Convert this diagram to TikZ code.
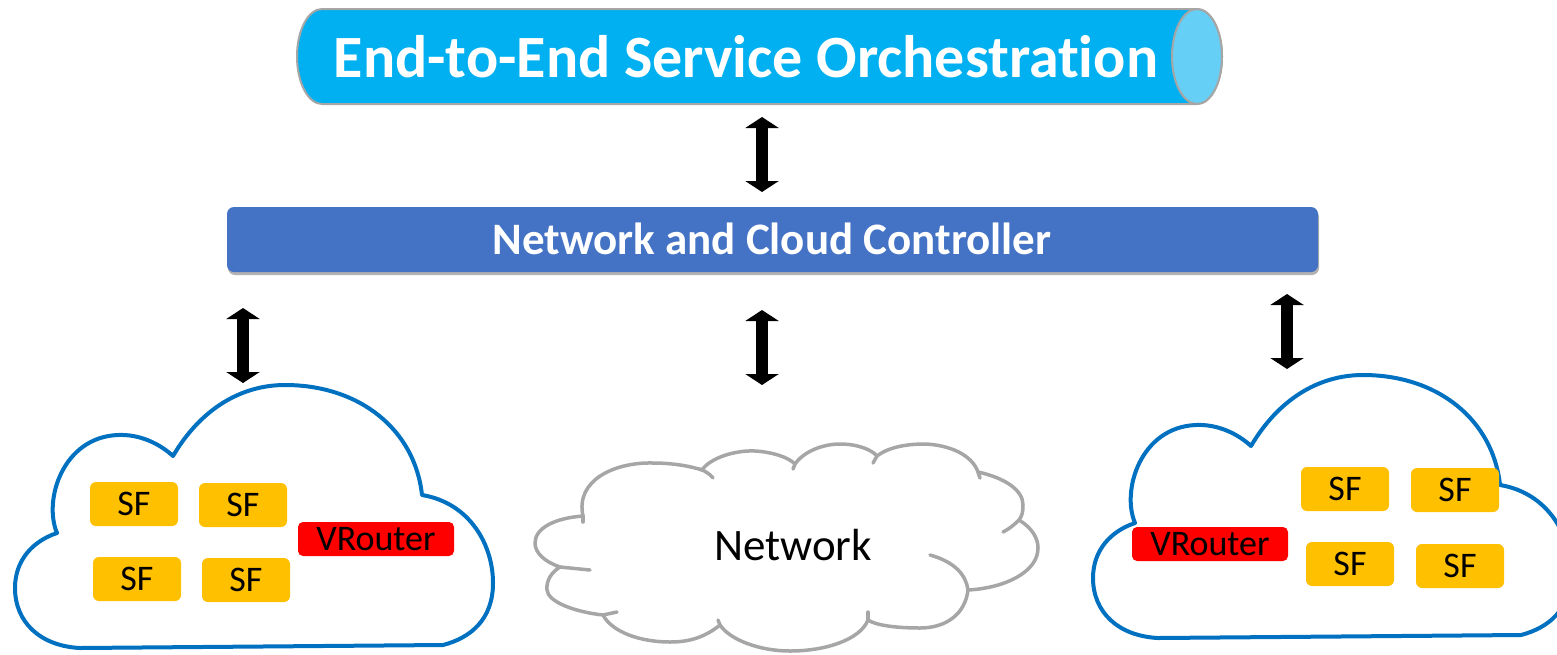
\documentclass[tikz,border=0pt]{standalone}
\usepackage{fontspec}
\setmainfont[Ligatures=NoCommon]{Carlito}
\usetikzlibrary{arrows.meta,shadows}
\definecolor{cylblue}{HTML}{00B0F0}
\definecolor{cylcap}{HTML}{66CFF5}
\definecolor{cylrim}{HTML}{A6A6A6}
\definecolor{ctrlblue}{HTML}{4472C4}
\definecolor{cloudblue}{HTML}{0070C0}
\definecolor{sfyellow}{HTML}{FFC000}
\definecolor{vrred}{HTML}{FF0000}
\definecolor{netgray}{HTML}{A6A6A6}
\begin{document}
\begin{tikzpicture}[x=1pt,y=-1pt,
  sfbox/.style={fill=sfyellow, rounded corners=6pt, minimum width=88pt, minimum height=44pt, inner sep=0pt, font=\fontsize{36}{40}\selectfont},
  vrbox/.style={fill=vrred, rounded corners=5pt, minimum width=156pt, minimum height=34pt, inner sep=0pt, font=\fontsize{36}{40}\selectfont},
  dblarrow/.style={line width=12pt, {Triangle[length=11pt,width=33pt]}-{Triangle[length=11pt,width=33pt]}},
  cloudline/.style={draw=cloudblue, line width=4pt, fill=white, line join=round},
  netline/.style={draw=netgray, line width=3.5pt, line cap=round, line join=round},
  ctrlbox/.style={fill=ctrlblue, rounded corners=7pt, minimum width=1091pt, minimum height=65pt, inner sep=0pt,
    drop shadow={shadow xshift=1pt, shadow yshift=-3pt, opacity=0.3, fill=black}},
  pics/bluecloud/.style={code={
    \path[cloudline] (443,645) -- (80,648)
      .. controls (40,646) and (15,622) .. (15,588)
      .. controls (15,560) and (33,541) .. (57,533)
      .. controls (43,500) and (63,437) .. (118,435)
      .. controls (140,434) and (160,444) .. (173,456)
      .. controls (200,410) and (240,385) .. (285,385)
      .. controls (360,385) and (415,430) .. (422,495)
      .. controls (470,503) and (493,545) .. (493,583)
      .. controls (493,620) and (470,638) .. (443,645) -- cycle;
  }},
]
\clip (0,0) rectangle (1557,654);
\fill[white] (0,0) rectangle (1557,654);

% cylinder
\path[fill=cylblue, draw=cylrim, line width=2pt] (1197,9) -- (322,9)
  arc[start angle=270, end angle=90, x radius=25, y radius=47.5] -- (1197,104)
  arc[start angle=90, end angle=-90, x radius=25, y radius=47.5] -- cycle;
\path[fill=cylcap, draw=cylrim, line width=2pt] (1197,56.5) ellipse[x radius=25, y radius=47.5];
\node[anchor=base, text=white, font=\fontsize{60}{70}\selectfont\bfseries] (orch) at (746,77) {End-to-End Service Orchestrat\kern0pt ion};

% controller
\node[ctrlbox] (ctrl) at (772.5,239.5) {};
\node[anchor=base, text=white, font=\fontsize{45}{50}\selectfont\bfseries] (ctrltext) at (772,254) {Network and Cloud Controller};

% clouds
\pic at (0,0) {bluecloud};
\pic at (1078,-10) {bluecloud};

% network cloud
\path[netline, fill=white] (583,516)
  .. controls (575,480) and (615,462) .. (653,463)
  .. controls (672,463) and (690,466) .. (702,470)
  .. controls (710,458) and (735,450) .. (755,451)
  .. controls (772,452) and (788,457) .. (795,464)
  .. controls (805,450) and (825,444) .. (840,444)
  .. controls (858,444) and (872,450) .. (877,456)
  .. controls (890,446) and (910,444) .. (925,444)
  .. controls (950,445) and (972,455) .. (978,472)
  .. controls (1005,478) and (1023,490) .. (1023,505)
  .. controls (1023,512) and (1022,516) .. (1019,520)
  .. controls (1032,528) and (1038,538) .. (1038,548)
  .. controls (1038,572) and (1005,588) .. (968,590)
  .. controls (965,615) and (945,628) .. (920,628)
  .. controls (895,628) and (875,625) .. (868,620)
  .. controls (860,640) and (825,651) .. (790,651)
  .. controls (760,651) and (730,640) .. (720,625)
  .. controls (705,637) and (690,642) .. (670,642)
  .. controls (640,642) and (612,632) .. (603,615)
  .. controls (575,612) and (548,602) .. (547,590)
  .. controls (546,580) and (552,572) .. (560,567)
  .. controls (545,562) and (535,553) .. (535,543)
  .. controls (535,528) and (555,518) .. (583,516) -- cycle;
\draw[netline] (700,469) .. controls (705,471) and (710,474) .. (713,478);
\draw[netline] (795,464) -- (793,469);
\draw[netline] (877,456) -- (873,463);
\draw[netline] (978,472) -- (980,478);
\draw[netline] (1019,520) .. controls (1014,525) and (1009,529) .. (1003,532);
\draw[netline] (930,555) .. controls (955,562) and (966,575) .. (968,590);
\draw[netline] (868,620) -- (868,612);
\draw[netline] (720,625) -- (718,620);
\draw[netline] (603,615) -- (617,612);
\draw[netline] (560,567) -- (590,570);
\draw[netline] (583,516) -- (583,522);
\node[anchor=base, font=\fontsize{45}{50}\selectfont] (net) at (793,560) {Network};

% left cloud contents
\node[sfbox] (sf1) at (134,504) {SF};
\node[sfbox] (sf2) at (243,505) {SF};
\node[sfbox] (sf3) at (137,579) {SF};
\node[sfbox] (sf4) at (246,580) {SF};
\node[vrbox] (vr1) at (376,539) {VRouter};

% right cloud contents
\node[sfbox] (sf5) at (1345,489) {SF};
\node[sfbox] (sf6) at (1455,490) {SF};
\node[sfbox] (sf7) at (1350,564) {SF};
\node[sfbox] (sf8) at (1460,566) {SF};
\node[vrbox] (vr2) at (1210,544) {VRouter};

% arrows
\coordinate (a1t) at (762,117); \coordinate (a1b) at (762,192);
\coordinate (a2t) at (243,308); \coordinate (a2b) at (243,383);
\coordinate (a3t) at (762,310); \coordinate (a3b) at (762,385);
\coordinate (a4t) at (1287,294); \coordinate (a4b) at (1287,369);
\draw[dblarrow] (a1t) -- (a1b);
\draw[dblarrow] (a2t) -- (a2b);
\draw[dblarrow] (a3t) -- (a3b);
\draw[dblarrow] (a4t) -- (a4b);
\end{tikzpicture}
\end{document}
